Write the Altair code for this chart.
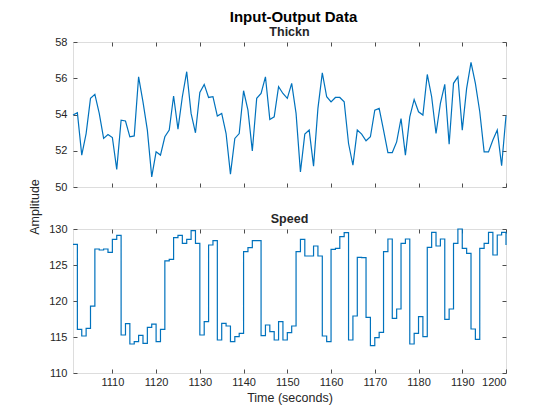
import altair as alt
import pandas as pd

time = list(range(1101, 1201))
thickness = [
    53.97, 54.10, 51.76, 52.95, 54.89, 55.11, 54.06, 52.68, 52.90, 52.73,
    50.97, 53.69, 53.64, 52.77, 52.82, 56.08, 54.70, 53.14, 50.56, 51.94,
    51.76, 52.77, 53.14, 55.02, 53.19, 54.98, 56.36, 54.06, 52.99, 55.22,
    55.66, 54.94, 54.98, 53.91, 54.06, 52.95, 50.71, 52.68, 52.95, 55.31,
    54.24, 51.99, 54.89, 55.16, 56.08, 53.73, 53.87, 55.53, 55.16, 54.89,
    55.72, 54.06, 50.83, 52.92, 53.14, 51.15, 54.34, 56.30, 54.98, 54.70,
    54.94, 54.94, 54.70, 52.40, 51.20, 53.14, 52.92, 52.55, 52.77, 54.24,
    54.34, 53.14, 51.90, 51.90, 52.49, 53.78, 51.76, 53.87, 54.83, 54.15,
    53.97, 56.21, 54.98, 52.95, 54.61, 55.66, 52.36, 55.72, 56.08, 53.14,
    55.44, 56.88, 55.72, 54.15, 51.94, 51.94, 52.59, 53.14, 51.17, 53.93,
]
speed = [
    127.87, 116.07, 115.14, 116.20, 119.30, 127.22, 127.08, 127.22, 126.76, 128.56,
    129.12, 115.28, 116.85, 114.03, 114.35, 115.23, 114.12, 116.34, 116.80, 114.35,
    116.07, 125.56, 125.79, 128.80, 129.12, 128.00, 128.56, 129.77, 128.00, 115.28,
    117.13, 127.78, 128.38, 114.58, 116.90, 116.53, 114.35, 115.05, 115.51, 126.85,
    127.41, 128.38, 128.38, 115.19, 116.67, 115.74, 114.58, 117.13, 114.58, 115.60,
    116.53, 126.85, 128.56, 126.25, 126.25, 127.64, 126.25, 115.14, 114.35, 127.18,
    127.31, 128.94, 129.49, 114.58, 117.92, 126.06, 126.02, 117.73, 113.80, 114.90,
    115.65, 126.85, 128.61, 117.59, 118.89, 128.01, 128.61, 114.03, 115.51, 117.82,
    115.05, 127.45, 129.53, 127.64, 128.61, 117.45, 118.89, 128.01, 130.00, 127.31,
    126.62, 116.11, 114.68, 127.31, 128.01, 129.53, 126.39, 129.17, 129.53, 127.78,
]
x_ticks = list(range(1110, 1201, 10))
thick_ticks = [50, 52, 54, 56, 58]
speed_ticks = [110, 115, 120, 125, 130]

FONT = "Liberation Sans"
BLUE = "#0072BD"
TXT = "#262626"
BOX = "#4d4d4d"

df = pd.DataFrame({"Time": time, "Thickn": thickness, "Speed": speed})

common = dict(grid=False, domain=False, tickSize=4, offset=-4, tickColor=BOX,
              tickWidth=1, labelFont=FONT, labelFontSize=11, labelColor=TXT,
              titleFont=FONT, titleFontSize=12.5, titleColor=TXT,
              titleFontWeight="normal")


def panel(field, ydom, yticks, ttl, bottom, step, h):
    xs = alt.Scale(domain=[1101, 1200], nice=False, zero=False)
    ys = alt.Scale(domain=ydom, nice=False, zero=False)
    mk = dict(color=BLUE, strokeWidth=1.2)
    if step:
        mk["interpolate"] = "step-after"
    if bottom:
        xb = alt.Axis(orient="bottom", values=x_ticks, labels=True, format="d",
                      labelPadding=3, title="Time (seconds)", titlePadding=4,
                      **common)
    else:
        xb = alt.Axis(orient="bottom", values=x_ticks, labels=False, title=None,
                      **common)
    yl = alt.Axis(orient="left", values=yticks, labelPadding=6, title=None,
                  format="d", **common)
    l1 = alt.Chart(df).mark_line(**mk).encode(
        x=alt.X("Time:Q", scale=xs, axis=xb),
        y=alt.Y(f"{field}:Q", scale=ys, axis=yl),
    )
    l2 = alt.Chart(df).mark_line(opacity=0, **mk).encode(
        x=alt.X("Time:Q", scale=xs,
                axis=alt.Axis(orient="top", values=x_ticks, labels=False,
                              title=None, **common)),
        y=alt.Y(f"{field}:Q", scale=ys,
                axis=alt.Axis(orient="right", values=yticks, labels=False,
                              title=None, **common)),
    )
    layers = [l1, l2]
    if not bottom:
        amp = alt.Chart(pd.DataFrame({"t": ["Amplitude"]})).mark_text(
            angle=270, font=FONT, fontSize=12.5, color=TXT,
            align="center", baseline="middle"
        ).encode(text="t:N", x=alt.value(-38), y=alt.value(165))
        layers.append(amp)
    return alt.layer(*layers).resolve_axis(x="independent", y="independent").properties(
        width=433, height=h,
        title=alt.TitleParams(ttl, font=FONT, fontSize=12.5, fontWeight="bold",
                              color=TXT, frame="group", anchor="middle", offset=-2),
    )


top = panel("Thickn", [50, 58], thick_ticks, "Thickn", False, False, 145)
bot = panel("Speed", [110, 130], speed_ticks, "Speed", True, True, 144)

chart = alt.vconcat(top, bot, spacing=42, bounds="flush").properties(
    title=alt.TitleParams("Input-Output Data", font=FONT, fontSize=15,
                          fontWeight="bold", color="#000000", anchor="middle",
                          frame="group", dx=4, offset=0),
    padding={"left": 20, "top": 2, "right": 10, "bottom": 5},
).configure_view(stroke=BOX, strokeWidth=1).configure(background="white")

chart.save("out.html", embed_options={"renderer": "svg", "actions": False})
